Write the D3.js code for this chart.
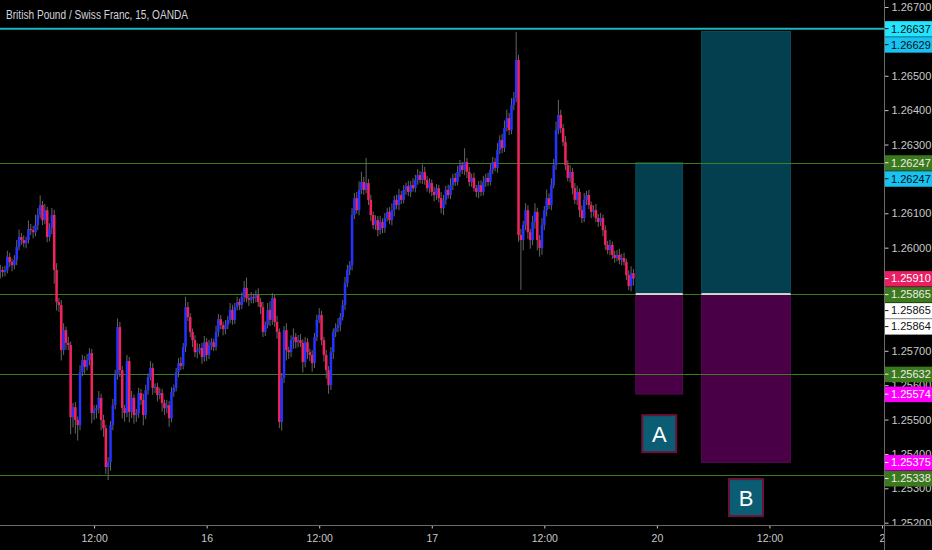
<!DOCTYPE html>
<html><head><meta charset="utf-8">
<script src="https://cdn.jsdelivr.net/npm/d3@7/dist/d3.min.js"></script>
<style>html,body{margin:0;padding:0;background:#000;overflow:hidden}text{font-family:"Liberation Sans",Arial,sans-serif}</style>
</head><body><svg id="c" width="932" height="550"></svg>
<script>
// ---- data (GBP/CHF 15m, OANDA) ----
const firstOpen = 1.25930;
const closes = [
1.25935,1.25929,1.25935,1.25973,1.25958,1.25949,1.25964,1.26002,1.26031,1.26022,
1.26013,1.26022,1.26054,1.26051,1.26045,1.26066,1.26095,1.26124,1.26080,1.26109,
1.26031,1.26057,1.26095,1.25935,1.25842,1.25833,1.25702,1.25760,1.25723,1.25717,
1.25507,1.25536,1.25499,1.25484,1.25638,1.25673,1.25653,1.25673,1.25693,1.25519,
1.25528,1.25533,1.25563,1.25499,1.25475,1.25362,1.25376,1.25484,1.25542,1.25630,
1.25769,1.25644,1.25533,1.25519,1.25670,1.25522,1.25563,1.25513,1.25519,1.25577,
1.25557,1.25513,1.25586,1.25624,1.25650,1.25592,1.25595,1.25571,1.25577,1.25548,
1.25533,1.25542,1.25504,1.25580,1.25592,1.25638,1.25664,1.25656,1.25711,1.25827,
1.25798,1.25755,1.25731,1.25696,1.25702,1.25708,1.25682,1.25725,1.25688,1.25717,
1.25725,1.25711,1.25755,1.25792,1.25775,1.25763,1.25775,1.25790,1.25819,1.25790,
1.25827,1.25842,1.25833,1.25856,1.25883,1.25853,1.25848,1.25856,1.25853,1.25862,
1.25842,1.25827,1.25755,1.25775,1.25819,1.25790,1.25853,1.25784,1.25755,1.25493,
1.25621,1.25760,1.25702,1.25696,1.25731,1.25740,1.25725,1.25731,1.25723,1.25667,
1.25725,1.25696,1.25688,1.25664,1.25740,1.25790,1.25804,1.25731,1.25688,1.25644,
1.25600,1.25696,1.25755,1.25766,1.25775,1.25798,1.25833,1.25897,1.25935,1.25949,
1.26095,1.26144,1.26109,1.26168,1.26191,1.26168,1.26188,1.26139,1.26095,1.26066,
1.26080,1.26051,1.26075,1.26057,1.26086,1.26104,1.26080,1.26109,1.26139,1.26124,
1.26153,1.26139,1.26168,1.26179,1.26162,1.26182,1.26173,1.26197,1.26211,1.26197,
1.26220,1.26197,1.26173,1.26188,1.26162,1.26153,1.26173,1.26144,1.26115,1.26139,
1.26168,1.26153,1.26182,1.26203,1.26191,1.26220,1.26240,1.26226,1.26249,1.26220,
1.26191,1.26203,1.26173,1.26162,1.26182,1.26162,1.26191,1.26203,1.26191,1.26226,
1.26249,1.26232,1.26284,1.26313,1.26290,1.26348,1.26377,1.26342,1.26415,1.26435,
1.26546,1.26037,1.26022,1.26066,1.26109,1.26045,1.26022,1.26075,1.26104,1.26022,
1.25999,1.26066,1.26109,1.26144,1.26124,1.26182,1.26240,1.26342,1.26386,1.26348,
1.26307,1.26240,1.26203,1.26220,1.26173,1.26139,1.26162,1.26109,1.26086,1.26139,
1.26153,1.26124,1.26104,1.26109,1.26086,1.26075,1.26086,1.26051,1.26008,1.25993,
1.26008,1.25979,1.25970,1.25979,1.25964,1.25970,1.25958,1.25920,1.25888,1.25926,
1.25910];
// wick lengths above / below the body, in points (0.00001)
const highWick = [
15,10,12,18,12,10,14,20,22,12, 14,10,25,15,12,30,20,28,12,18,
10,14,20,15,20,12,15,20,10,18, 10,12,15,10,20,15,12,18,15,12,
14,10,20,12,15,10,15,12,18,15, 25,15,12,10,18,12,20,10,12,15,
12,18,15,10,20,14,10,12,15,12, 10,15,12,14,10,12,15,18,12,30,
15,12,10,14,20,12,15,18,12,15, 12,10,18,15,12,10,14,12,20,15,
12,15,10,14,20,30,12,15,10,14, 20,12,15,10,20,25,15,12,18,10,
15,12,20,10,14,25,12,15,18,10, 15,12,10,14,12,15,20,12,10,15,
12,15,10,14,20,12,15,18,15,12, 20,15,18,25,30,15,73,12,15,10,
14,12,18,10,15,12,14,20,12,15, 18,12,14,10,15,12,20,15,18,12,
22,15,12,14,10,15,12,10,18,14, 12,15,20,12,14,18,15,10,40,12,
14,12,15,10,12,14,18,12,15,20, 15,12,20,14,18,22,25,15,20,18,
81,15,18,12,20,14,10,18,25,12, 15,20,12,25,14,20,18,25,44,15,
12,18,14,20,12,15,18,10,14,20, 12,15,10,14,18,12,15,10,14,12,
15,10,12,14,18,12,15,10,14,20, 12];
const lowWick = [
20,15,12,10,14,18,12,15,10,14, 12,15,10,14,18,12,15,10,14,12,
15,12,18,40,25,20,30,14,20,15, 50,30,40,45,15,12,20,10,15,30,
20,25,15,30,25,20,38,25,15,12, 14,20,30,25,12,30,18,25,20,14,
15,30,12,14,10,20,15,18,12,25, 20,15,25,12,14,10,15,12,10,15,
12,15,20,14,18,12,20,14,18,12, 15,12,10,14,12,18,15,12,10,14,
12,10,15,12,14,12,18,10,15,12, 14,20,15,12,10,18,15,14,20,18,
25,15,30,20,14,25,18,15,12,30, 15,20,18,25,14,12,10,15,20,25,
25,14,20,15,12,18,10,14,12,15, 15,12,10,15,12,14,10,15,18,12,
14,18,12,15,14,10,12,15,18,12, 15,12,10,14,12,15,10,12,14,10,
12,14,10,15,12,18,14,12,15,20, 14,10,12,15,12,10,14,12,15,18,
12,14,10,15,18,12,10,14,12,10, 12,10,14,12,15,12,10,14,12,15,
12,20,145,30,15,20,25,15,20,30, 25,20,15,18,12,15,10,14,12,15,
12,15,10,14,18,12,15,20,14,12, 15,12,18,14,12,15,12,18,14,12,
15,12,14,10,12,15,10,14,12,15, 20];

const timeTickIndex = [40, 88, 136, 184, 232, 280, 328, 376];
const timeTickLabels = ["12:00", "16", "12:00", "17", "12:00", "20", "12:00", "2"];
// price scale ticks that remain visible beside the level labels
const priceTicks = [1.252,1.253,1.254,1.255,1.256,1.257,1.260,1.261,1.263,1.264,1.265,1.267];

const greenLevels = [1.26247, 1.25865, 1.25632, 1.25338];
const cyanLevel = 1.26637;

const posNames = ["A", "B"];
const posStart = [271, 299];
const posEnd = [291, 337];
const posTarget = [1.26247, 1.26629];
const posEntry = [1.25865, 1.25865];
const posStop = [1.25574, 1.25375];
const posLabelIndex = [281, 318];
const posLabelPrice = [1.25459, 1.25273];

const labelValues = [1.26637, 1.26629, 1.26247, 1.26247, 1.25910, 1.25865, 1.25865, 1.25864, 1.25632, 1.25574, 1.25375, 1.25338];
const labelKinds  = ["cyan", "cyanB", "green", "cyanB", "last", "green", "white", "white", "green", "magenta", "magenta", "green"];

// ---- styles ----
const C = {
  bg: "#000000", up: "#2433ff", down: "#f0235f", wick: "#6f6f6f",
  green: "#3e8a1f", cyanLine: "#1fb5bd", axis: "#6a6a6a", text: "#c9c9c9",
  teal: "#033f4e", purple: "#4a0047"
};
const labelStyle = {
  cyan:   {bg: "#22e6ff", fg: "#0d0d0d"},
  cyanB:  {bg: "#17c3f3", fg: "#0d0d0d"},
  green:  {bg: "#3b7a1c", fg: "#ececec"},
  last:   {bg: "#e91e63", fg: "#ffffff"},
  white:  {bg: "#ffffff", fg: "#111111"},
  magenta:{bg: "#ff00ff", fg: "#ffffff"}
};

const W = 932, H = 550, plotR = 884.5, plotB = 525.5;
const svg = d3.select("#c");
svg.append("rect").attr("width", W).attr("height", H).attr("fill", C.bg);

const x = d3.scaleLinear().domain([0, 376]).range([0.3, 882]);
const y = d3.scaleLinear().domain([1.252, 1.267]).range([522.7, 7]);

svg.append("defs").append("clipPath").attr("id", "plot")
  .append("rect").attr("x", 0).attr("y", 0).attr("width", plotR).attr("height", plotB);
const plot = svg.append("g").attr("clip-path", "url(#plot)");

// position boxes
posNames.forEach((n, k) => {
  const x0 = x(posStart[k]), x1 = x(posEnd[k]);
  plot.append("rect").attr("x", x0).attr("width", x1 - x0)
    .attr("y", y(posTarget[k])).attr("height", y(posEntry[k]) - y(posTarget[k]))
    .attr("fill", C.teal).attr("stroke", "#0a5363").attr("stroke-width", 0.8);
  plot.append("rect").attr("x", x0).attr("width", x1 - x0)
    .attr("y", y(posEntry[k])).attr("height", y(posStop[k]) - y(posEntry[k]))
    .attr("fill", C.purple).attr("stroke", "#5a0a55").attr("stroke-width", 0.8);
});

// horizontal levels
greenLevels.forEach(v => {
  plot.append("line").attr("x1", 0).attr("x2", plotR)
    .attr("y1", Math.round(y(v)) + 0.5).attr("y2", Math.round(y(v)) + 0.5)
    .attr("stroke", C.green).attr("stroke-width", 1).attr("opacity", 0.9);
});
plot.append("line").attr("x1", 0).attr("x2", plotR)
  .attr("y1", y(cyanLevel)).attr("y2", y(cyanLevel))
  .attr("stroke", C.cyanLine).attr("stroke-width", 2);

// entry white lines
posNames.forEach((n, k) => {
  plot.append("line").attr("x1", x(posStart[k])).attr("x2", x(posEnd[k]))
    .attr("y1", y(posEntry[k])).attr("y2", y(posEntry[k]))
    .attr("stroke", "#ffffff").attr("stroke-width", 1.6);
});

// candles
const candles = closes.map((c, i) => {
  const o = i === 0 ? firstOpen : closes[i - 1];
  return {i, o, c, h: Math.max(o, c) + highWick[i] * 1e-5, l: Math.min(o, c) - lowWick[i] * 1e-5};
});
const cg = plot.append("g");
cg.selectAll("line.w").data(candles).join("line").attr("class", "w")
  .attr("x1", d => x(d.i)).attr("x2", d => x(d.i))
  .attr("y1", d => y(d.h)).attr("y2", d => y(d.l))
  .attr("stroke", C.wick).attr("stroke-width", 0.9);
const bw = (x(1) - x(0)) * 1.08;
cg.selectAll("rect.b").data(candles).join("rect").attr("class", "b")
  .attr("x", d => x(d.i) - bw / 2).attr("width", bw)
  .attr("y", d => y(Math.max(d.o, d.c)))
  .attr("height", d => Math.max(1, Math.abs(y(d.o) - y(d.c))))
  .attr("fill", d => d.c >= d.o ? C.up : C.down);

// A / B labels
posNames.forEach((n, k) => {
  const cx = x(posLabelIndex[k]), cy = y(posLabelPrice[k]);
  plot.append("rect").attr("x", cx - 17).attr("y", cy - 18.5).attr("width", 34).attr("height", 37)
    .attr("fill", "#0b5d73").attr("stroke", "#6b1239").attr("stroke-width", 2);
  plot.append("text").attr("x", cx).attr("y", cy).attr("dy", "0.36em")
    .attr("text-anchor", "middle").attr("fill", "#ffffff").attr("font-size", 22).text(n);
});

// title
svg.append("text").attr("x", 6).attr("y", 19).attr("fill", "#d1d4dc").attr("font-size", 12)
  .attr("textLength", 182).attr("lengthAdjust", "spacingAndGlyphs")
  .text("British Pound / Swiss Franc, 15, OANDA");

// right price axis
const ya = svg.append("g").attr("transform", `translate(${plotR},0)`)
  .call(d3.axisRight(y).tickValues(priceTicks).tickFormat(d3.format(".5f")).tickSize(4).tickPadding(3));
ya.select(".domain").remove();
ya.selectAll(".tick line").attr("stroke", C.text);
ya.selectAll(".tick text").attr("fill", C.text).attr("font-size", 11)
  .attr("font-family", "Liberation Sans, Arial, sans-serif");

// price labels with collision push-down
const labs = labelValues.map((v, k) => ({v, kind: labelKinds[k], k}))
  .sort((a, b) => (b.v - a.v) || (a.k - b.k));
let prev = -1e9;
labs.forEach(d => { d.cy = Math.max(y(d.v), prev + 16); prev = d.cy; });
const lg = svg.append("g");
labs.forEach(d => {
  const st = labelStyle[d.kind];
  lg.append("rect").attr("x", plotR + 0.5).attr("y", d.cy - 7.5).attr("width", W - plotR).attr("height", 15.5)
    .attr("fill", st.bg);
  lg.append("line").attr("x1", plotR).attr("x2", plotR + 4).attr("y1", d.cy).attr("y2", d.cy)
    .attr("stroke", st.fg);
  lg.append("text").attr("x", 891).attr("y", d.cy).attr("dy", "0.35em")
    .attr("fill", st.fg).attr("font-size", 11).text(d3.format(".5f")(d.v));
});

// bottom time axis area
svg.append("rect").attr("x", 0).attr("y", plotB).attr("width", W).attr("height", H - plotB).attr("fill", C.bg);
const xa = svg.append("g").attr("transform", `translate(0,${plotB})`)
  .call(d3.axisBottom(x).tickValues(timeTickIndex).tickFormat((d, i) => timeTickLabels[i]).tickSize(3).tickPadding(6));
xa.select(".domain").remove();
xa.selectAll(".tick line").attr("stroke", C.text);
xa.selectAll(".tick text").attr("fill", C.text).attr("font-size", 10.5)
  .attr("font-family", "Liberation Sans, Arial, sans-serif");

// frame lines
svg.append("line").attr("x1", 0).attr("x2", W).attr("y1", plotB).attr("y2", plotB).attr("stroke", C.axis);
svg.append("line").attr("x1", plotR).attr("x2", plotR).attr("y1", 0).attr("y2", H).attr("stroke", C.axis);
</script>
</body></html>
